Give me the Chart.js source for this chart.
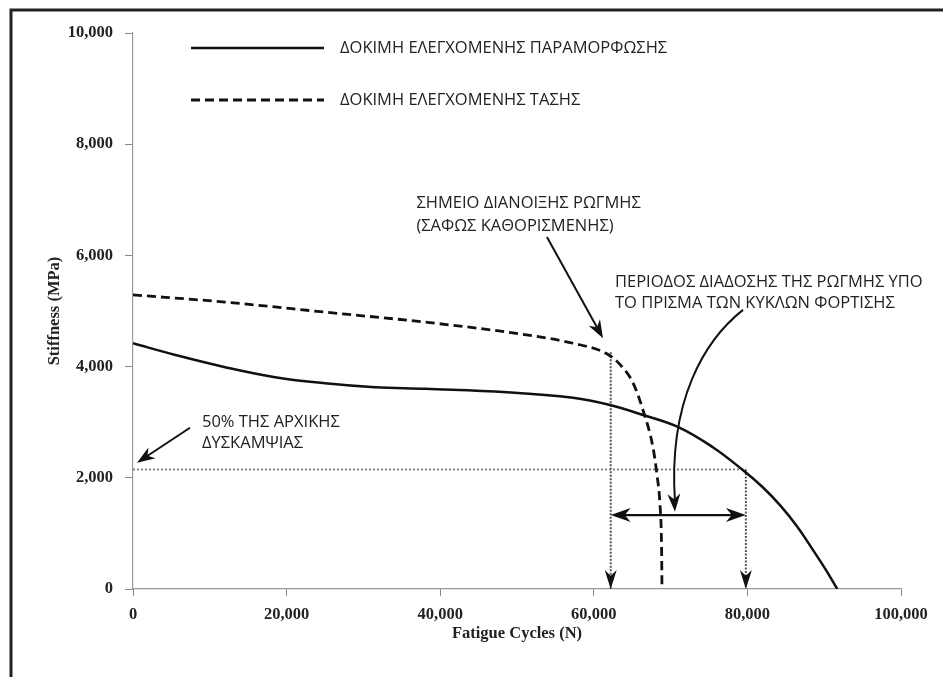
<!DOCTYPE html>
<html>
<head>
<meta charset="utf-8">
<script src="https://cdn.jsdelivr.net/npm/chart.js@4.4.1/dist/chart.umd.min.js"></script>
<style>
  html, body { margin: 0; padding: 0; background: #fff; overflow: hidden; }
  #wrap { width: 943px; height: 677px; position: relative; }
  canvas { display: block; }
</style>
</head>
<body>
<div id="wrap"><canvas id="chart" width="943" height="677"></canvas></div>
<script>
// tick values
const ticksX = [0, 20000, 40000, 60000, 80000, 100000];
const ticksY = [0, 2000, 4000, 6000, 8000, 10000];

// strain controlled test (solid)
const cyclesStrain = [0, 5500, 12000, 18500, 25000, 31500, 38000, 48700, 57300, 62100, 66400, 71200, 75500, 79400, 82000, 84300, 86500, 88400, 90100, 91700];
const stiffStrain = [4420, 4210, 3990, 3810, 3700, 3630, 3600, 3540, 3440, 3310, 3130, 2900, 2550, 2140, 1830, 1500, 1120, 730, 370, 0];

// stress controlled test (dashed)
const cyclesStress = [0, 12000, 25000, 38000, 48700, 57300, 61700, 63400, 65100, 66400, 67700, 68230, 68620, 68820, 68880];
const stiffStress = [5290, 5160, 4980, 4800, 4620, 4420, 4230, 4040, 3710, 3220, 2550, 2050, 1510, 790, 0];

const seriesLabels = ["ΔΟΚΙΜΗ ΕΛΕΓΧΟΜΕΝΗΣ ΠΑΡΑΜΟΡΦΩΣΗΣ", "ΔΟΚΙΜΗ ΕΛΕΓΧΟΜΕΝΗΣ ΤΑΣΗΣ"];

// reference values
const halfStiffness = 2150;      // 50% of initial stiffness
const crackCycles = 62200;       // crack initiation
const crackStiffness = 4260;
const failCycles = 79800;        // strain test reaches 50%
const spanLevel = 1330;          // level of the propagation span arrow

// notes: [text, x, y] in data units (left edge, middle)
const notes = [
  ["ΣΗΜΕΙΟ ΔΙΑΝΟΙΞΗΣ ΡΩΓΜΗΣ", 36900, 6940],
  ["(ΣΑΦΩΣ ΚΑΘΟΡΙΣΜΕΝΗΣ)", 36900, 6530],
  ["ΠΕΡΙΟΔΟΣ ΔΙΑΔΟΣΗΣ ΤΗΣ ΡΩΓΜΗΣ ΥΠΟ", 62760, 5520],
  ["ΤΟ ΠΡΙΣΜΑ ΤΩΝ ΚΥΚΛΩΝ ΦΟΡΤΙΣΗΣ", 62760, 5140],
  ["50% ΤΗΣ ΑΡΧΙΚΗΣ", 8980, 2990],
  ["ΔΥΣΚΑΜΨΙΑΣ", 8980, 2620],
];

// pointer arrows: [x0, y0, x1, y1] (tail -> tip), data units
const pointers = [
  [53900, 6330, 61200, 4510],
  [7420, 2900, 520, 2270],
];
// curved pointer: tail, control 1, control 2, tip
const curvedPointer = [[79430, 5020], [74480, 4480], [69660, 3400], [70570, 1390]];

function pts(xs, ys) {
  return xs.map((x, i) => ({ x: x, y: ys[i] }));
}

function arrowHead(ctx, tx, ty, angle, len, half) {
  ctx.save();
  ctx.translate(tx, ty);
  ctx.rotate(angle);
  ctx.beginPath();
  ctx.moveTo(0, 0);
  ctx.lineTo(-len, -half);
  ctx.lineTo(-len * 0.7, 0);
  ctx.lineTo(-len, half);
  ctx.closePath();
  ctx.fill();
  ctx.restore();
}

const framePlugin = {
  id: "frame",
  beforeDraw(chart) {
    const ctx = chart.ctx;
    ctx.save();
    ctx.fillStyle = "#fff";
    ctx.fillRect(0, 0, chart.width, chart.height);
    ctx.strokeStyle = "#222";
    ctx.lineWidth = 3;
    ctx.beginPath();
    ctx.moveTo(11, 677);
    ctx.lineTo(11, 10);
    ctx.lineTo(943, 10);
    ctx.stroke();
    ctx.restore();
  },
};

const notesPlugin = {
  id: "notes",
  afterDatasetsDraw(chart) {
    const ctx = chart.ctx;
    const sx = chart.scales.x;
    const sy = chart.scales.y;
    const px = (v) => sx.getPixelForValue(v);
    const py = (v) => sy.getPixelForValue(v);
    ctx.save();
    ctx.fillStyle = "#111";
    ctx.strokeStyle = "#111";

    // arrowheads on dotted verticals
    arrowHead(ctx, px(crackCycles), py(0), Math.PI / 2, 19, 6);
    arrowHead(ctx, px(failCycles), py(0), Math.PI / 2, 19, 6);

    // propagation span arrowheads
    arrowHead(ctx, px(crackCycles), py(spanLevel), Math.PI, 20, 7);
    arrowHead(ctx, px(failCycles), py(spanLevel), 0, 20, 7);

    // straight pointers
    ctx.lineWidth = 2;
    pointers.forEach(([x0, y0, x1, y1]) => {
      const ax = px(x0), ay = py(y0), bx = px(x1), by = py(y1);
      const ang = Math.atan2(by - ay, bx - ax);
      ctx.beginPath();
      ctx.moveTo(ax, ay);
      ctx.lineTo(bx - Math.cos(ang) * 10, by - Math.sin(ang) * 10);
      ctx.stroke();
      arrowHead(ctx, bx, by, ang, 18, 6.5);
    });

    // curved pointer
    const c = curvedPointer.map(([x, y]) => [px(x), py(y)]);
    ctx.beginPath();
    ctx.moveTo(c[0][0], c[0][1]);
    ctx.bezierCurveTo(c[1][0], c[1][1], c[2][0], c[2][1], c[3][0], c[3][1] - 10);
    ctx.stroke();
    arrowHead(ctx, c[3][0], c[3][1], Math.atan2(c[3][1] - c[2][1], c[3][0] - c[2][0]), 18, 6.5);

    // notes
    ctx.font = "16.5px 'Open Sans', 'Noto Sans', sans-serif";
    ctx.fillStyle = "#222";
    ctx.textBaseline = "middle";
    ctx.textAlign = "left";
    notes.forEach(([t, x, y]) => ctx.fillText(t, px(x), py(y)));

    // legend
    const legendRows = [48, 100];
    chart.data.datasets.slice(0, 2).forEach((ds, i) => {
      const y = legendRows[i];
      ctx.save();
      ctx.strokeStyle = ds.borderColor;
      ctx.lineWidth = ds.borderWidth;
      ctx.setLineDash(ds.borderDash || []);
      ctx.beginPath();
      ctx.moveTo(191, y);
      ctx.lineTo(324, y);
      ctx.stroke();
      ctx.restore();
      ctx.fillText(ds.label, 340, y);
    });
    ctx.restore();
  },
};

const serifBold = { family: "'Liberation Serif', 'DejaVu Serif', serif", size: 16.5, weight: "bold" };

new Chart(document.getElementById("chart"), {
  type: "line",
  data: {
    datasets: [
      {
        label: seriesLabels[0],
        data: pts(cyclesStrain, stiffStrain),
        borderColor: "#111",
        borderWidth: 2.5,
        pointRadius: 0,
        tension: 0.4,
      },
      {
        label: seriesLabels[1],
        data: pts(cyclesStress, stiffStress),
        borderColor: "#111",
        borderWidth: 2.8,
        borderDash: [9, 5],
        pointRadius: 0,
        cubicInterpolationMode: "monotone",
      },
      {
        label: "50%",
        data: pts([0, failCycles], [halfStiffness, halfStiffness]),
        borderColor: "#777",
        borderWidth: 1.8,
        borderDash: [2, 2],
        pointRadius: 0,
      },
      {
        label: "crack",
        data: pts([crackCycles, crackCycles], [crackStiffness, 0]),
        borderColor: "#555",
        borderWidth: 2,
        borderDash: [2, 1.5],
        pointRadius: 0,
      },
      {
        label: "fail",
        data: pts([failCycles, failCycles], [halfStiffness, 0]),
        borderColor: "#555",
        borderWidth: 2,
        borderDash: [2, 1.5],
        pointRadius: 0,
      },
      {
        label: "span",
        data: pts([crackCycles + 1500, failCycles - 1500], [spanLevel, spanLevel]),
        borderColor: "#111",
        borderWidth: 2.2,
        pointRadius: 0,
      },
    ],
  },
  options: {
    responsive: false,
    animation: false,
    devicePixelRatio: 1,
    layout: { padding: { top: 33, left: 40, right: 42, bottom: 0 } },
    plugins: {
      legend: { display: false },
      tooltip: { enabled: false },
    },
    scales: {
      x: {
        type: "linear",
        min: 0,
        max: 100000,
        afterFit: (s) => { s.height = 88; },
        afterBuildTicks: (s) => { s.ticks = ticksX.map((v) => ({ value: v })); },
        border: { color: "#999", width: 1.2 },
        grid: { drawOnChartArea: false, drawTicks: true, tickLength: 7, tickColor: "#888" },
        ticks: {
          color: "#222",
          font: serifBold,
          padding: 9,
          maxRotation: 0,
          callback: (v) => v.toLocaleString("en-US"),
        },
        title: {
          display: true,
          text: "Fatigue Cycles (N)",
          color: "#222",
          font: serifBold,
          padding: { top: 0, bottom: 33 },
        },
      },
      y: {
        type: "linear",
        min: 0,
        max: 10000,
        afterFit: (s) => { s.width = 93; },
        afterBuildTicks: (s) => { s.ticks = ticksY.map((v) => ({ value: v })); },
        border: { color: "#999", width: 1.2, dash: [5, 3] },
        grid: { drawOnChartArea: false, drawTicks: true, tickLength: 8, tickColor: "#888" },
        ticks: {
          color: "#222",
          font: serifBold,
          padding: 12,
          callback: (v) => v.toLocaleString("en-US"),
        },
        title: {
          display: true,
          text: "Stiffness (MPa)",
          color: "#222",
          font: serifBold,
          padding: { top: 5, bottom: 0 },
        },
      },
    },
  },
  plugins: [framePlugin, notesPlugin],
});
</script>
</body>
</html>
